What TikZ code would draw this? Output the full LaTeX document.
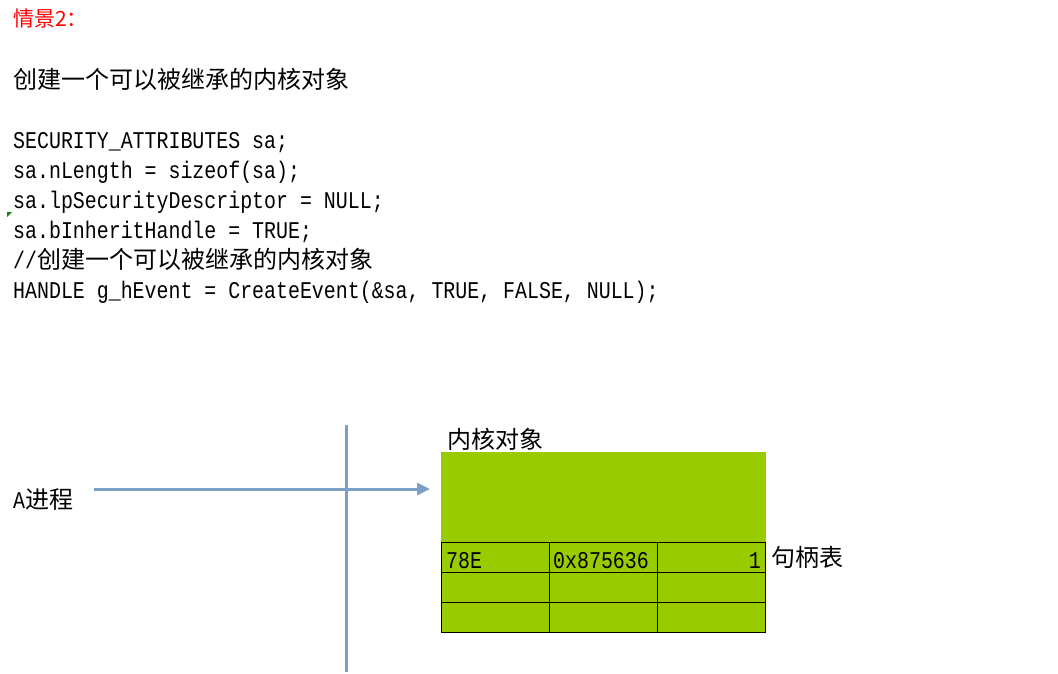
\documentclass[tikz,border=0pt]{standalone}
\usepackage{fontspec}
\usepackage{xcolor}
\setmonofont[FakeStretch=0.83]{Liberation Mono}
\newfontfamily\cjk{Noto Sans CJK SC}
\usetikzlibrary{arrows.meta, positioning}
\definecolor{kgreen}{HTML}{99CC00}
\definecolor{lineblue}{RGB}{122,160,200}
\definecolor{markgreen}{RGB}{20,130,20}
\newcommand{\zh}[1]{{\fontsize{24}{28}\selectfont\cjk #1}}

\begin{document}
\begin{tikzpicture}[x=1pt, y=-1pt,
    txt/.style={inner sep=0pt, anchor=base west, font=\fontsize{24}{28}\selectfont\cjk},
    code/.style={inner sep=0pt, anchor=base west, font=\fontsize{24}{28}\selectfont\ttfamily},
    cell/.style={draw, line width=1pt, fill=kgreen, minimum width=108.33pt, minimum height=30pt, inner sep=0pt, outer sep=0pt},
    blueline/.style={line width=3pt, color=lineblue}]
        \useasboundingbox (0,0) rectangle (1058,673);

        \draw node[txt, red, font=\fontsize{21}{25}\selectfont\cjk] (title) at (13,26) {情景2：};
        \draw node[txt] (intro) at (13,88) {创建一个可以被继承的内核对象};

        \foreach \x/\y in {0/{SECURITY\_ATTRIBUTES sa;}, 1/{sa.nLength = sizeof(sa);},
            2/{sa.lpSecurityDescriptor = NULL;}, 3/{sa.bInheritHandle = TRUE;},
            4/{//\zh{创建一个可以被继承的内核对象}}, 5/{HANDLE g\_hEvent = CreateEvent(\&sa, TRUE, FALSE, NULL);}}
        \draw node[code] (l\x) at (13,{148+30*\x}) {\y};

        \fill[markgreen] (7,212) -- (12,212) -- (7,217) -- cycle;

        % kernel object and handle table
        \draw node[fill=kgreen, minimum width=325pt, minimum height=90pt, inner sep=0pt, outer sep=0pt, anchor=north west] (kobj) at (441,452) {};
        \draw node[txt] (kname) at (447,448) {内核对象};

        \draw node[cell, below right=0 and 0 of kobj.south west] (c11) {};
        \foreach \x [evaluate = \x as \xp using int(\x-1)] in {2, 3}
        \draw node[cell, right=0 of c1\xp] (c1\x) {};
        \foreach \r [evaluate = \r as \rp using int(\r-1)] in {2, 3}
        \foreach \x in {1, 2, 3}
        \draw node[cell, below=0 of c\rp\x] (c\r\x) {};

        \draw node[code] (h1) at (446,568) {78E};
        \draw node[code] (h2) at (553,568) {0x875636};
        \draw node[code, anchor=base east] (h3) at (761,568) {1};
        \draw node[txt] (htab) at (771,566) {句柄表};

        % process A
        \draw node[inner sep=0pt, anchor=base west] (procA) at (13,508) {\fontsize{24}{28}\selectfont\ttfamily A\zh{进程}};
        \coordinate (vtop) at (346,425);
        \coordinate (vbot) at (346,672);
        \coordinate (astart) at (94,489);
        \coordinate (aend) at (430,489);
        \draw[blueline] (vtop) -- (vbot);
        \draw[blueline, -{Triangle[length=13pt, width=12pt]}] (astart) -- (aend);
      \end{tikzpicture}
\end{document}
